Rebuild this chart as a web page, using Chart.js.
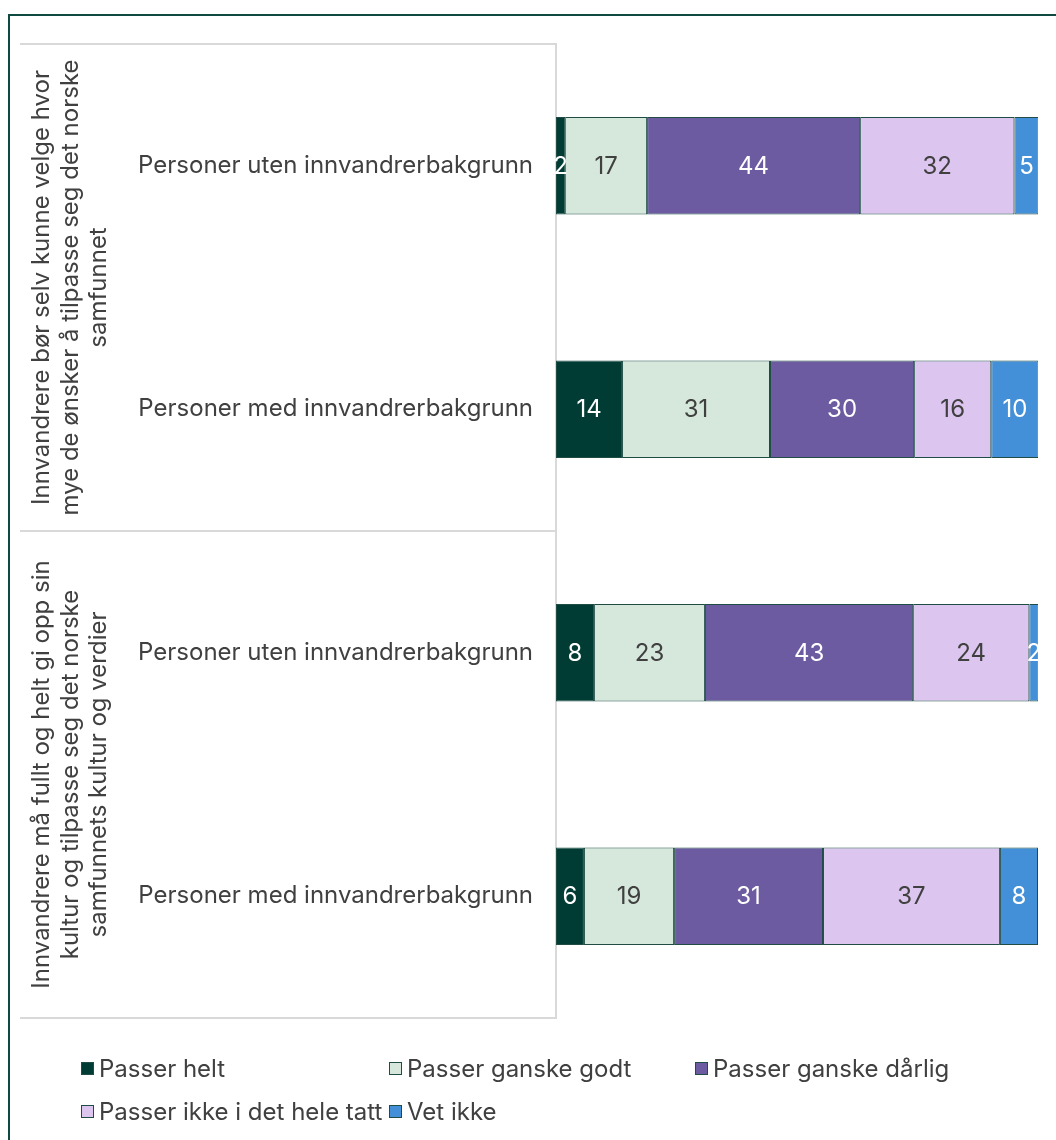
<!DOCTYPE html>
<html>
<head>
<meta charset="utf-8">
<script src="https://cdn.jsdelivr.net/npm/chart.js@4/dist/chart.umd.min.js"></script>
<style>
  html, body { margin: 0; padding: 0; background: #ffffff; }
  body { width: 1056px; height: 1140px; position: relative; overflow: hidden; font-family: Inter, "Noto Sans", sans-serif; }
  #frame { position: absolute; left: 8px; top: 14px; width: 1100px; height: 1200px; border-left: 2px solid #0f4a42; border-top: 2px solid #0f4a42; box-sizing: border-box; }
  #wrap { position: absolute; left: 0; top: 0; width: 1056px; height: 1140px; }
  #legend { position: absolute; left: 81px; top: 1053px; display: grid; grid-template-columns: 308px 306px 300px; row-gap: 13px; }
  .item { display: flex; align-items: center; height: 30px; font-size: 24px; color: #404040; white-space: nowrap; }
  .box { width: 11px; height: 11px; border: 1px solid #1f4d46; margin-right: 5px; flex: none; }
</style>
</head>
<body>
<div id="frame"></div>
<div id="wrap"><canvas id="c" width="1056" height="1140"></canvas></div>
<div id="legend"></div>
<script>
// ---- data ----
const categories = [
  'Personer uten innvandrerbakgrunn',
  'Personer med innvandrerbakgrunn',
  'Personer uten innvandrerbakgrunn',
  'Personer med innvandrerbakgrunn'
];
const groupLabels = [
  ['Innvandrere bør selv kunne velge hvor', 'mye de ønsker å tilpasse seg det norske', 'samfunnet'],
  ['Innvandrere må fullt og helt gi opp sin', 'kultur og tilpasse seg det norske', 'samfunnets kultur og verdier']
];
const seriesNames = ['Passer helt', 'Passer ganske godt', 'Passer ganske dårlig', 'Passer ikke i det hele tatt', 'Vet ikke'];
const passerHelt        = [1.9, 13.7, 7.9, 5.8];
const passerGanskeGodt  = [17.0, 30.7, 23.0, 18.7];
const passerGanskeDarlig= [44.2, 29.9, 43.2, 30.9];
const passerIkke        = [32.0, 16.0, 24.1, 36.7];
const vetIkke           = [5.0, 9.8, 1.9, 7.9];

const seriesValues = [passerHelt, passerGanskeGodt, passerGanskeDarlig, passerIkke, vetIkke];
const seriesColors = ['#003c34', '#d5e8db', '#6c5ba1', '#dcc6ef', '#4490d8'];
const labelColors  = ['#ffffff', '#404040', '#ffffff', '#404040', '#ffffff'];

const FONT = 'Inter, "Noto Sans", sans-serif';
const FS = 24;

const valueLabels = {
  id: 'valueLabels',
  afterDatasetsDraw(chart) {
    const ctx = chart.ctx;
    ctx.save();
    ctx.font = FS + 'px ' + FONT;
    ctx.textAlign = 'center';
    ctx.textBaseline = 'middle';
    chart.data.datasets.forEach((ds, i) => {
      const meta = chart.getDatasetMeta(i);
      meta.data.forEach((bar, j) => {
        const v = ds.data[j];
        const x = (bar.x + bar.base) / 2;
        ctx.fillStyle = labelColors[i];
        ctx.fillText(String(Math.round(v)), x, bar.y + 1);
      });
    });
    ctx.restore();
  }
};

const groupBox = {
  id: 'groupBox',
  afterDraw(chart) {
    const ctx = chart.ctx;
    const ys = chart.scales.y;
    const area = chart.chartArea;
    const left = 20, right = area.left - 1;
    ctx.save();
    ctx.strokeStyle = '#d9d9d9';
    ctx.lineWidth = 2;
    const half = (ys.getPixelForValue(1) - ys.getPixelForValue(0)) / 2;
    const bounds = [area.top, ys.getPixelForValue(1) + half, area.bottom];
    bounds.forEach(y => {
      ctx.beginPath(); ctx.moveTo(left, Math.round(y)); ctx.lineTo(right + 1, Math.round(y)); ctx.stroke();
    });
    // group labels
    ctx.fillStyle = '#404040';
    ctx.font = FS + 'px ' + FONT;
    ctx.textAlign = 'center';
    ctx.textBaseline = 'middle';
    groupLabels.forEach((lines, g) => {
      const yc = (ys.getPixelForValue(g * 2) + ys.getPixelForValue(g * 2 + 1)) / 2;
      lines.forEach((t, k) => {
        ctx.save();
        ctx.translate(42 + k * 28.5, yc);
        ctx.rotate(-Math.PI / 2);
        ctx.fillText(t, 0, 0);
        ctx.restore();
      });
    });
    ctx.restore();
  }
};

const chart = new Chart(document.getElementById('c'), {
  type: 'bar',
  data: {
    labels: categories,
    datasets: seriesNames.map((name, i) => ({
      label: name,
      data: seriesValues[i],
      backgroundColor: seriesColors[i],
      borderColor: '#1f4d46',
      borderWidth: 1,
      borderSkipped: false,
      barPercentage: 0.4,
      categoryPercentage: 1.0
    }))
  },
  options: {
    indexAxis: 'y',
    responsive: false,
    animation: false,
    devicePixelRatio: 1,
    layout: { padding: { left: 0, right: 18, top: 44, bottom: 122 } },
    plugins: { legend: { display: false }, tooltip: { enabled: false } },
    scales: {
      x: { stacked: true, min: 0, max: 100, display: false },
      y: {
        stacked: true,
        grid: { display: false, drawTicks: false },
        border: { display: true, color: '#d9d9d9', width: 2 },
        ticks: { color: '#404040', font: { family: FONT, size: FS }, padding: 23 },
        afterFit(scale) { scale.width = 556; }
      }
    }
  },
  plugins: [valueLabels, groupBox]
});

// HTML legend built from the datasets
const legend = document.getElementById('legend');
chart.data.datasets.forEach(ds => {
  const item = document.createElement('div');
  item.className = 'item';
  const box = document.createElement('span');
  box.className = 'box';
  box.style.background = ds.backgroundColor;
  const txt = document.createElement('span');
  txt.textContent = ds.label;
  item.appendChild(box); item.appendChild(txt);
  legend.appendChild(item);
});
</script>
</body>
</html>
